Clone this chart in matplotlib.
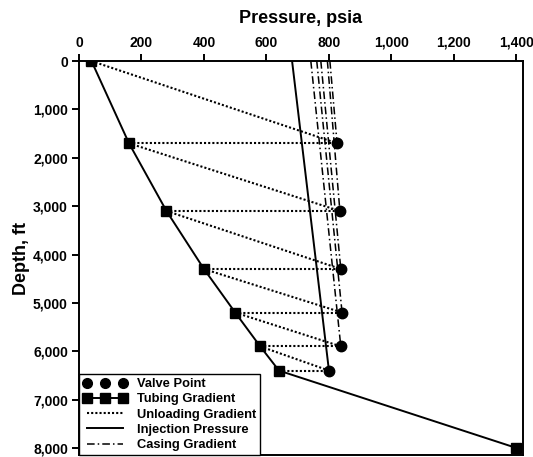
import matplotlib
matplotlib.use('Agg')
import matplotlib.pyplot as plt
from matplotlib.ticker import FuncFormatter

plt.rcParams['font.family'] = ['Liberation Sans', 'DejaVu Sans']
plt.rcParams['font.weight'] = 'bold'

# tubing gradient points (pressure psia, depth ft)
tubing_p = [40, 160, 280, 400, 500, 580, 640, 1400]
tubing_d = [0, 1700, 3100, 4300, 5200, 5900, 6400, 8000]

# valve points
valve_p = [826, 835, 838, 842, 838, 800]
valve_d = [1700, 3100, 4300, 5200, 5900, 6400]

# injection pressure line
inj_p = [682, 800]
inj_d = [0, 6400]

# surface pressure of each casing gradient line (one per upper valve)
casing_top = [803, 795, 774, 761, 742]

fig = plt.figure(figsize=(5.33, 4.57), dpi=100)
ax = fig.add_axes([0.1482, 0.0044, 0.833, 0.862])

dot_style = (0, (1, 1))
casing_style = (0, (5, 2, 1, 2))

# unloading gradient: diagonal from previous tubing point to valve, horizontal at valve depth
for i in range(len(valve_d)):
    ax.plot([tubing_p[i], valve_p[i]], [tubing_d[i], valve_d[i]],
            color='black', lw=1.5, linestyle=dot_style, zorder=2)
    ax.plot([tubing_p[i + 1], valve_p[i]], [tubing_d[i + 1], valve_d[i]],
            color='black', lw=1.5, linestyle=dot_style, zorder=2)

for i in range(len(casing_top)):
    ax.plot([casing_top[i], valve_p[i]], [0, valve_d[i]],
            color='black', lw=1.1, linestyle=casing_style, zorder=2)

ax.plot(inj_p, inj_d, color='black', lw=1.4, zorder=3)
ax.plot(tubing_p, tubing_d, color='black', lw=1.4, marker='s', ms=6.5, zorder=4)
ax.plot(valve_p, valve_d, linestyle='none', color='black', marker='o', ms=7.5, zorder=5)

# legend handles
h1, = ax.plot([], [], linestyle='none', color='black', marker='o', ms=7)
h2, = ax.plot([], [], color='black', lw=1.4, marker='s', ms=6.5)
h3, = ax.plot([], [], color='black', lw=1.5, linestyle=dot_style)
h4, = ax.plot([], [], color='black', lw=1.4)
h5, = ax.plot([], [], color='black', lw=1.1, linestyle=casing_style)
leg = ax.legend([h1, h2, h3, h4, h5],
                ['Valve Point', 'Tubing Gradient', 'Unloading Gradient',
                 'Injection Pressure', 'Casing Gradient'],
                loc='lower left', bbox_to_anchor=(0, 0), borderaxespad=0,
                numpoints=3, handlelength=3.4, labelspacing=0.25,
                fancybox=False, edgecolor='black', framealpha=1,
                prop={'size': 9.3, 'weight': 'bold'}, borderpad=0.3,
                handletextpad=0.8)
leg.get_frame().set_linewidth(1.0)

ax.set_xlim(0, 1421)
ax.set_ylim(8145, 0)
ax.set_xticks(range(0, 1401, 200))
ax.set_yticks(range(0, 8001, 1000))
fmt = FuncFormatter(lambda v, p: '{:,.0f}'.format(v))
ax.xaxis.set_major_formatter(fmt)
ax.yaxis.set_major_formatter(fmt)
ax.xaxis.tick_top()
ax.xaxis.set_label_position('top')
ax.tick_params(direction='out', length=5, width=1.4, labelsize=10, pad=3)
for s in ax.spines.values():
    s.set_linewidth(1.4)

ax.set_xlabel('Pressure, psia', fontsize=13, fontweight='bold', labelpad=9)
ax.set_ylabel('Depth, ft', fontsize=13, fontweight='bold', labelpad=2)

fig.savefig('out.png', dpi=100)
